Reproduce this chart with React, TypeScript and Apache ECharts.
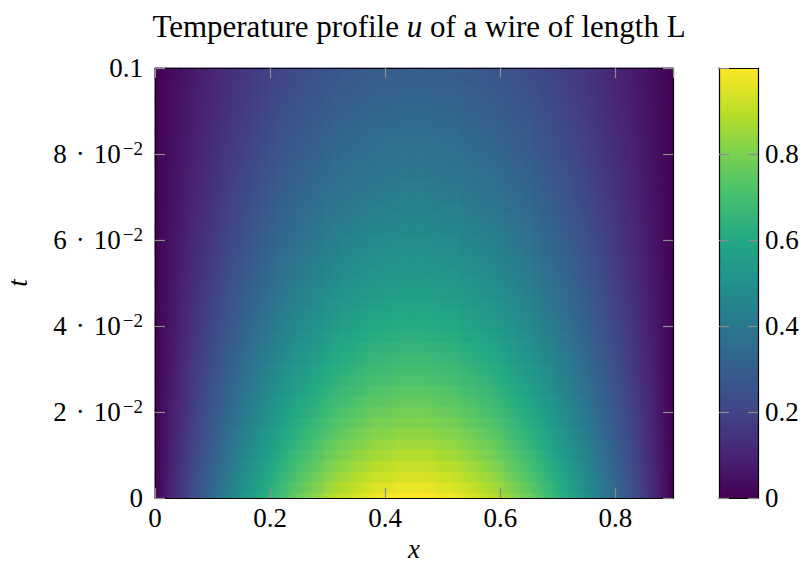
import React, { useEffect, useRef } from 'react';
import * as echarts from 'echarts';

// Grid spacing of the sampled field
const X_STEP = 0.0125;
const T_STEP = 0.0025;
const X_MAX = 0.9;
const T_MAX = 0.1;

// u(x, 0): profile read along the bottom edge, x = 0 .. 0.9 every 0.0125
const PROFILE_X = [
  0.0, 0.04, 0.09, 0.13, 0.17, 0.22, 0.26, 0.3, 0.34, 0.38, 0.42, 0.46, 0.5,
  0.54, 0.57, 0.61, 0.64, 0.68, 0.71, 0.74, 0.77, 0.79, 0.82, 0.84, 0.87, 0.89,
  0.91, 0.92, 0.94, 0.95, 0.97, 0.98, 0.98, 0.99, 1.0, 1.0, 1.0,
  1.0, 1.0, 0.99, 0.98, 0.98, 0.97, 0.95, 0.94, 0.92, 0.91, 0.89, 0.87, 0.84,
  0.82, 0.79, 0.77, 0.74, 0.71, 0.68, 0.64, 0.61, 0.57, 0.54, 0.5, 0.46, 0.42,
  0.38, 0.34, 0.3, 0.26, 0.22, 0.17, 0.13, 0.09, 0.04, 0.0,
];

// relative amplitude along t (centre column), t = 0 .. 0.1 every 0.0025
const DECAY_T = [
  1.0, 0.97, 0.941, 0.913, 0.885, 0.859, 0.833, 0.808, 0.784, 0.76, 0.737,
  0.715, 0.694, 0.673, 0.653, 0.633, 0.614, 0.596, 0.578, 0.561, 0.544, 0.528,
  0.512, 0.496, 0.482, 0.467, 0.453, 0.44, 0.426, 0.414, 0.401, 0.389, 0.377,
  0.366, 0.355, 0.344, 0.334, 0.324, 0.314, 0.305, 0.296,
];

const X_TICKS = [0, 0.2, 0.4, 0.6, 0.8];
const X_TICK_LABELS = ['0', '0.2', '0.4', '0.6', '0.8'];
const T_TICKS = [0, 0.02, 0.04, 0.06, 0.08, 0.1];
const T_TICK_LABELS = [
  '0',
  '{b|2\u2004·\u200410}{s|−2}',
  '{b|4\u2004·\u200410}{s|−2}',
  '{b|6\u2004·\u200410}{s|−2}',
  '{b|8\u2004·\u200410}{s|−2}',
  '0.1',
];
const CB_TICKS = [0, 0.2, 0.4, 0.6, 0.8];
const CB_TICK_LABELS = ['0', '0.2', '0.4', '0.6', '0.8'];

const VIRIDIS = [
  '#440154', '#482475', '#414487', '#355f8d', '#2a788e', '#21918c',
  '#22a884', '#44bf70', '#7ad151', '#bddf26', '#fde725',
];

const TITLE_PARTS = ['Temperature profile ', 'u', ' of a wire of length L'];

const FONT = 'Liberation Serif';
const FS = 27;
const TITLE_FS = 31;

function lookup(ticks: number[], labels: string[]) {
  return (v: number) => {
    const i = ticks.findIndex((t) => Math.abs(t - v) < 1e-9);
    return i >= 0 ? labels[i] : '';
  };
}

const RGB = VIRIDIS.map((h) => [
  parseInt(h.slice(1, 3), 16),
  parseInt(h.slice(3, 5), 16),
  parseInt(h.slice(5, 7), 16),
]);

function colorOf(v: number) {
  const n = RGB.length;
  const p = Math.min(1, Math.max(0, v)) * (n - 1);
  const k = Math.min(n - 2, Math.floor(p));
  const f = p - k;
  const c = RGB[k].map((a, i) => Math.round(a + (RGB[k + 1][i] - a) * f));
  return `rgb(${c[0]},${c[1]},${c[2]})`;
}

export default function App() {
  const ref = useRef<HTMLDivElement>(null);

  useEffect(() => {
    if (!ref.current) return;
    const chart = echarts.init(ref.current, null, { renderer: 'svg' });

    // each cell spans [x_i, x_{i+1}] and is shaded between its two corner values
    const field: number[][] = [];
    DECAY_T.forEach((g, j) => {
      for (let i = 0; i < PROFILE_X.length - 1; i++) {
        field.push([i * X_STEP, j * T_STEP, PROFILE_X[i] * g, PROFILE_X[i + 1] * g]);
      }
    });

    const tickStyle = { show: true, inside: true, length: 10, lineStyle: { color: '#8c8c8c', width: 1.2 } };
    const lineStyle = { show: true, onZero: false, lineStyle: { color: '#000', width: 1.2 } };
    const labelFont = { fontFamily: FONT, fontSize: FS, color: '#000', fontWeight: 'normal' };

    const option: any = {
      animation: false,
      backgroundColor: '#fff',
      title: {
        text: `{n|${TITLE_PARTS[0]}}{i|${TITLE_PARTS[1]}}{n|${TITLE_PARTS[2]}}`,
        left: 414,
        top: 6,
        textAlign: 'center',
        textStyle: {
          fontWeight: 'normal',
          fontFamily: FONT,
          fontSize: TITLE_FS,
          rich: {
            n: { fontFamily: FONT, fontSize: TITLE_FS, fontWeight: 'normal', color: '#000' },
            i: { fontFamily: FONT, fontSize: TITLE_FS, fontWeight: 'normal', fontStyle: 'italic', color: '#000' },
          },
        },
      },
      grid: [
        { left: 155, top: 68, width: 518, height: 430, containLabel: false, outerBoundsMode: 'none' },
        { left: 719, top: 68, width: 39, height: 430, containLabel: false, outerBoundsMode: 'none' },
      ],
      xAxis: [
        {
          type: 'value', gridIndex: 0, position: 'bottom', min: 0, max: X_MAX, interval: 0.2, z: 10,
          axisLine: lineStyle, axisTick: tickStyle, splitLine: { show: false },
          axisLabel: { ...labelFont, margin: 6, showMaxLabel: false, formatter: lookup(X_TICKS, X_TICK_LABELS) },
          name: 'x', nameLocation: 'middle', nameGap: 36,
          nameTextStyle: { fontFamily: FONT, fontSize: FS, fontStyle: 'italic', color: '#000' },
        },
        {
          type: 'value', gridIndex: 0, position: 'top', min: 0, max: X_MAX, interval: 0.2, z: 10,
          axisLine: lineStyle, axisTick: tickStyle, splitLine: { show: false }, axisLabel: { show: false },
        },
        {
          type: 'value', gridIndex: 1, position: 'bottom', min: 0, max: 1, z: 10,
          axisLine: lineStyle, axisTick: { show: false }, splitLine: { show: false }, axisLabel: { show: false },
        },
        {
          type: 'value', gridIndex: 1, position: 'top', min: 0, max: 1, z: 10,
          axisLine: lineStyle, axisTick: { show: false }, splitLine: { show: false }, axisLabel: { show: false },
        },
      ],
      yAxis: [
        {
          type: 'value', gridIndex: 0, position: 'left', min: 0, max: T_MAX, interval: 0.02, z: 10,
          axisLine: lineStyle, axisTick: tickStyle, splitLine: { show: false },
          axisLabel: {
            ...labelFont, margin: 12, formatter: lookup(T_TICKS, T_TICK_LABELS),
            rich: {
              b: { fontFamily: FONT, fontSize: FS, lineHeight: 30, color: '#000', verticalAlign: 'middle' },
              s: { fontFamily: FONT, fontSize: 19, lineHeight: 8, color: '#000', verticalAlign: 'top', padding: [0, 0, 0, 2] },
            },
          },
          name: 't', nameLocation: 'middle', nameGap: 124, nameRotate: 90,
          nameTextStyle: { fontFamily: FONT, fontSize: FS, fontStyle: 'italic', color: '#000' },
        },
        {
          type: 'value', gridIndex: 0, position: 'right', min: 0, max: T_MAX, interval: 0.02, z: 10,
          axisLine: lineStyle, axisTick: tickStyle, splitLine: { show: false }, axisLabel: { show: false },
        },
        {
          type: 'value', gridIndex: 1, position: 'right', min: 0, max: 1, interval: 0.2, z: 10,
          axisLine: lineStyle, axisTick: tickStyle, splitLine: { show: false },
          axisLabel: { ...labelFont, margin: 7, showMaxLabel: false, formatter: lookup(CB_TICKS, CB_TICK_LABELS) },
        },
        {
          type: 'value', gridIndex: 1, position: 'left', min: 0, max: 1, interval: 0.2, z: 10,
          axisLine: lineStyle, axisTick: tickStyle, splitLine: { show: false }, axisLabel: { show: false },
        },
      ],
      series: [
        {
          type: 'custom',
          xAxisIndex: 0,
          yAxisIndex: 0,
          data: field,
          encode: { x: 0, y: 1 },
          renderItem: (params: any, api: any) => {
            const x = api.value(0);
            const t = api.value(1);
            const x0 = x;
            const x1 = Math.min(X_MAX, x + X_STEP);
            const t0 = Math.max(0, t - T_STEP / 2);
            const t1 = Math.min(T_MAX, t + T_STEP / 2);
            const p0 = api.coord([x0, t1]);
            const p1 = api.coord([x1, t0]);
            const grad = new echarts.graphic.LinearGradient(1, 0, 0, 0, [
              { offset: 0, color: colorOf(api.value(3)) },
              { offset: 1, color: colorOf(api.value(2)) },
            ]);
            return {
              type: 'rect',
              shape: { x: p0[0], y: p0[1], width: p1[0] - p0[0], height: p1[1] - p0[1] },
              style: { fill: grad, stroke: grad, lineWidth: 1 },
            };
          },
        },
        {
          type: 'custom',
          xAxisIndex: 2,
          yAxisIndex: 2,
          data: [[0, 0]],
          renderItem: (params: any, api: any) => {
            const p0 = api.coord([0, 1]);
            const p1 = api.coord([1, 0]);
            return {
              type: 'rect',
              shape: { x: p0[0], y: p0[1], width: p1[0] - p0[0], height: p1[1] - p0[1] },
              style: {
                fill: new echarts.graphic.LinearGradient(
                  0, 1, 0, 0,
                  VIRIDIS.map((c, i) => ({ offset: i / (VIRIDIS.length - 1), color: c }))
                ),
              },
            };
          },
        },
      ],
    };

    chart.setOption(option);
    return () => chart.dispose();
  }, []);

  return (
    <div
      ref={ref}
      style={{ position: 'fixed', left: 0, top: 0, width: 807, height: 563 }}
    />
  );
}
